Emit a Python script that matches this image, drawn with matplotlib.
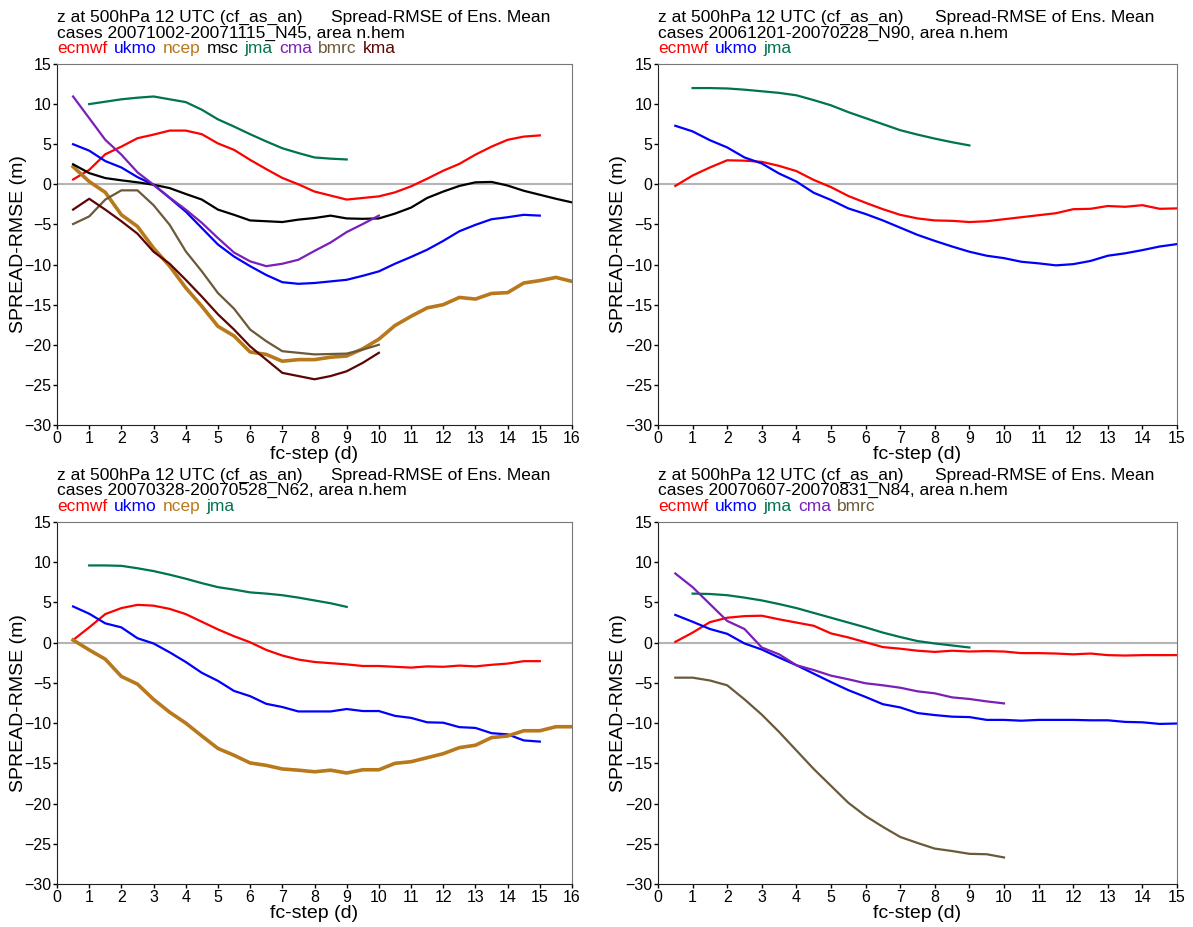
import numpy as np
import matplotlib
matplotlib.use('Agg')
import matplotlib.pyplot as plt

plt.rcParams['font.family'] = ['Liberation Sans', 'DejaVu Sans']

# colours per centre
colors = {
    'ecmwf': '#ff0000', 'ukmo': '#0000ff', 'ncep': '#b8781c', 'msc': '#000000',
    'jma': '#007352', 'cma': '#7a1fb8', 'bmrc': '#6b5a3a', 'kma': '#5c0505',
}

# ---- panel 1: 20071002-20071115_N45 ----
p1_ecmwf = [0.6, 1.8, 3.75, 4.7, 5.75, 6.2, 6.7, 6.7, 6.25, 5.1, 4.3, 3.05, 1.9, 0.8, 0.0,
            -0.9, -1.4, -1.9, -1.7, -1.5, -1.0, -0.25, 0.7, 1.7, 2.55, 3.7, 4.7, 5.55, 5.95, 6.1]
p1_ukmo = [5.0, 4.2, 2.9, 2.1, 0.9, -0.05, -1.7, -3.4, -5.45, -7.5, -9.0, -10.2, -11.3, -12.2,
           -12.4, -12.3, -12.1, -11.9, -11.4, -10.85, -9.9, -9.05, -8.15, -7.05, -5.85, -5.05,
           -4.35, -4.1, -3.8, -3.9]
p1_ncep = [2.2, 0.35, -1.0, -3.8, -5.25, -7.95, -10.2, -12.9, -15.2, -17.7, -18.9, -20.9, -21.2,
           -22.05, -21.85, -21.85, -21.55, -21.4, -20.5, -19.3, -17.6, -16.45, -15.4, -15.0,
           -14.1, -14.3, -13.6, -13.5, -12.3, -12.0, -11.6, -12.1]
p1_msc = [2.5, 1.4, 0.78, 0.5, 0.25, -0.05, -0.47, -1.2, -1.9, -3.15, -3.8, -4.5, -4.6, -4.7,
          -4.4, -4.2, -3.9, -4.25, -4.3, -4.25, -3.65, -2.9, -1.7, -0.9, -0.2, 0.25, 0.3,
          -0.15, -0.8, -1.3, -1.8, -2.25]
p1_jma = [10.0, 10.3, 10.6, 10.8, 10.95, 10.6, 10.25, 9.3, 8.1, 7.2, 6.25, 5.35, 4.5, 3.9,
          3.35, 3.2, 3.1]
p1_cma = [10.95, 8.25, 5.55, 3.7, 1.5, -0.05, -1.65, -3.15, -4.8, -6.7, -8.5, -9.6, -10.2,
          -9.9, -9.4, -8.3, -7.25, -5.95, -4.95, -3.9]
p1_bmrc = [-4.95, -4.0, -1.9, -0.75, -0.75, -2.6, -5.05, -8.35, -10.85, -13.55, -15.5, -18.1,
           -19.55, -20.8, -21.0, -21.2, -21.15, -21.1, -20.6, -20.0]
p1_kma = [-3.15, -1.8, -3.15, -4.6, -6.15, -8.4, -9.9, -11.9, -14.0, -16.2, -18.1, -20.2,
          -21.85, -23.5, -23.9, -24.3, -23.9, -23.3, -22.25, -21.0]

# ---- panel 2: 20061201-20070228_N90 ----
p2_ecmwf = [-0.2, 1.1, 2.1, 3.0, 2.95, 2.8, 2.3, 1.65, 0.55, -0.35, -1.45, -2.3, -3.1, -3.8,
            -4.25, -4.5, -4.55, -4.7, -4.6, -4.35, -4.1, -3.85, -3.6, -3.1, -3.05, -2.7, -2.8,
            -2.6, -3.05, -3.0]
p2_ukmo = [7.3, 6.6, 5.5, 4.6, 3.35, 2.6, 1.35, 0.35, -1.05, -1.95, -3.0, -3.7, -4.5, -5.4,
           -6.3, -7.05, -7.75, -8.4, -8.9, -9.2, -9.65, -9.85, -10.1, -9.95, -9.55, -8.9, -8.6,
           -8.2, -7.75, -7.45]
p2_jma = [12.0, 12.0, 11.95, 11.8, 11.6, 11.4, 11.1, 10.5, 9.85, 9.0, 8.25, 7.5, 6.75, 6.2,
          5.7, 5.25, 4.85]

# ---- panel 3: 20070328-20070528_N62 ----
p3_ecmwf = [0.33, 1.9, 3.55, 4.3, 4.7, 4.6, 4.2, 3.55, 2.6, 1.65, 0.8, 0.05, -0.9, -1.6, -2.1,
            -2.4, -2.55, -2.7, -2.9, -2.9, -3.0, -3.1, -2.95, -3.0, -2.85, -2.95, -2.75, -2.6,
            -2.3, -2.3]
p3_ukmo = [4.5, 3.6, 2.4, 1.9, 0.55, -0.1, -1.2, -2.4, -3.75, -4.75, -6.0, -6.65, -7.6, -8.0,
           -8.55, -8.55, -8.55, -8.25, -8.5, -8.5, -9.1, -9.35, -9.9, -9.95, -10.5, -10.6,
           -11.25, -11.4, -12.15, -12.3]
p3_ncep = [0.33, -0.9, -2.05, -4.2, -5.15, -7.05, -8.65, -10.0, -11.6, -13.15, -14.0, -14.95,
           -15.25, -15.7, -15.85, -16.05, -15.85, -16.2, -15.8, -15.8, -15.0, -14.8, -14.3,
           -13.8, -13.05, -12.75, -11.8, -11.6, -10.95, -10.95, -10.45, -10.45]
p3_jma = [9.6, 9.6, 9.55, 9.25, 8.9, 8.45, 7.95, 7.4, 6.9, 6.6, 6.25, 6.1, 5.9, 5.6, 5.25,
          4.9, 4.45]

# ---- panel 4: 20070607-20070831_N84 ----
p4_ecmwf = [0.1, 1.25, 2.55, 3.1, 3.3, 3.35, 2.9, 2.5, 2.1, 1.15, 0.65, 0.05, -0.55, -0.75,
            -1.0, -1.15, -1.0, -1.1, -1.05, -1.1, -1.3, -1.3, -1.35, -1.45, -1.35, -1.55, -1.6,
            -1.55, -1.55, -1.55]
p4_ukmo = [3.45, 2.6, 1.7, 1.1, -0.1, -0.85, -1.85, -2.8, -3.85, -4.9, -5.9, -6.75, -7.65,
           -8.05, -8.75, -9.0, -9.2, -9.25, -9.6, -9.6, -9.7, -9.6, -9.6, -9.6, -9.65, -9.65,
           -9.85, -9.9, -10.1, -10.05]
p4_jma = [6.1, 6.05, 5.9, 5.6, 5.25, 4.8, 4.3, 3.7, 3.1, 2.5, 1.9, 1.25, 0.7, 0.2, -0.1,
          -0.35, -0.6]
p4_cma = [8.6, 6.9, 4.8, 2.7, 1.7, -0.6, -1.45, -2.8, -3.4, -4.1, -4.55, -5.05, -5.3, -5.6,
          -6.05, -6.3, -6.8, -7.0, -7.3, -7.55]
p4_bmrc = [-4.35, -4.35, -4.7, -5.3, -7.05, -8.95, -11.1, -13.4, -15.7, -17.8, -19.9, -21.55,
           -22.9, -24.15, -24.9, -25.6, -25.9, -26.25, -26.3, -26.7]

# first forecast step of each centre (d)
start_step = {'ecmwf': 0.5, 'ukmo': 0.5, 'ncep': 0.5, 'msc': 0.5,
              'jma': 1.0, 'cma': 0.5, 'bmrc': 0.5, 'kma': 0.5}

panels = [
    ('cases 20071002-20071115_N45, area n.hem', 16,
     [('ecmwf', p1_ecmwf), ('ukmo', p1_ukmo), ('ncep', p1_ncep), ('msc', p1_msc),
      ('jma', p1_jma), ('cma', p1_cma), ('bmrc', p1_bmrc), ('kma', p1_kma)]),
    ('cases 20061201-20070228_N90, area n.hem', 15,
     [('ecmwf', p2_ecmwf), ('ukmo', p2_ukmo), ('jma', p2_jma)]),
    ('cases 20070328-20070528_N62, area n.hem', 16,
     [('ecmwf', p3_ecmwf), ('ukmo', p3_ukmo), ('ncep', p3_ncep), ('jma', p3_jma)]),
    ('cases 20070607-20070831_N84, area n.hem', 15,
     [('ecmwf', p4_ecmwf), ('ukmo', p4_ukmo), ('jma', p4_jma), ('cma', p4_cma),
      ('bmrc', p4_bmrc)]),
]

W, H = 1193, 927
fig = plt.figure(figsize=(W / 100, H / 100), dpi=100)

boxes = [(57, 572, 64, 425), (658, 1177, 64, 425),
         (57, 572, 522, 884), (658, 1177, 522, 884)]

for (subtitle, xmax, series), (x0, x1, y0, y1) in zip(panels, boxes):
    ax = fig.add_axes([x0 / W, 1 - y1 / H, (x1 - x0) / W, (y1 - y0) / H])
    ax.axhline(0, color='#b4b4b4', lw=1.5, zorder=1)
    for name, vals in series:
        x = start_step[name] + 0.5 * np.arange(len(vals))
        lw = 2.6 if name == 'ncep' else 1.6
        ax.plot(x, vals, color=colors[name], lw=lw, zorder=2)

    ax.set_xlim(0, xmax)
    ax.set_ylim(-30, 15)
    ax.set_xticks(range(0, xmax + 1))
    ax.set_yticks(range(-30, 16, 5))
    ax.tick_params(direction='out', length=3, width=1, labelsize=11.5, pad=1)
    for s in ['left', 'bottom']:
        ax.spines[s].set_color('#222222')
    for s in ['top', 'right']:
        ax.spines[s].set_color('#777777')
    ax.set_ylabel('SPREAD-RMSE (m)', fontsize=14)
    ax.yaxis.set_label_coords(-0.059, 0.5)
    ax.set_xlabel('fc-step (d)', fontsize=14, labelpad=0)

    # header lines
    ax.text(0, 1.107, 'z at 500hPa 12 UTC (cf_as_an)', transform=ax.transAxes,
            fontsize=12.5, va='bottom', ha='left')
    ax.text(0.533, 1.107, 'Spread-RMSE of Ens. Mean', transform=ax.transAxes,
            fontsize=12.5, va='bottom', ha='left')
    ax.text(0, 1.065, subtitle, transform=ax.transAxes,
            fontsize=12.5, va='bottom', ha='left')
    prev = None
    for name, _ in series:
        if prev is None:
            prev = ax.text(0, 1.023, name, transform=ax.transAxes, fontsize=12.5,
                           va='bottom', ha='left', color=colors[name])
        else:
            prev = ax.annotate(name, xy=(1, 0), xycoords=prev, xytext=(4.5, 0),
                               textcoords='offset points', fontsize=12.5,
                               va='bottom', ha='left', color=colors[name])

fig.savefig('out.png', dpi=100)
